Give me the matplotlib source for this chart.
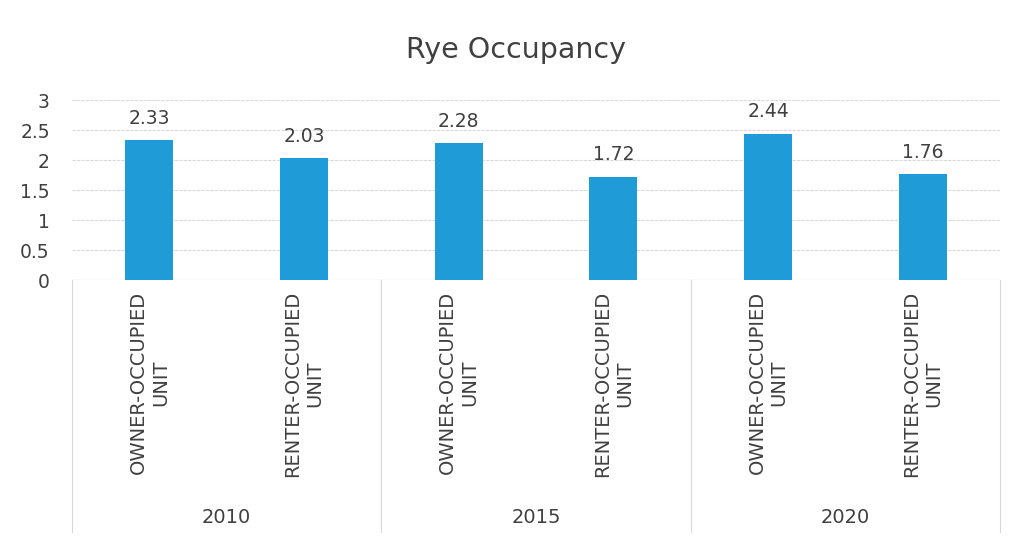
import matplotlib
import matplotlib.pyplot as plt
from matplotlib.lines import Line2D

plt.switch_backend("agg")
plt.rcParams["font.family"] = ["DejaVu Sans"]

YEARS = ["2010", "2015", "2020"]
UNIT_TYPES = ["OWNER-OCCUPIED\nUNIT", "RENTER-OCCUPIED\nUNIT"]
VALUES = [2.33, 2.03, 2.28, 1.72, 2.44, 1.76]
Y_TICKS = [0, 0.5, 1, 1.5, 2, 2.5, 3]

BAR_COLOR = "#1f9bd7"
TEXT_COLOR = "#404040"
GRID_COLOR = "#d9d9d9"

W, H = 1013, 537
fig = plt.figure(figsize=(W / 100, H / 100), dpi=100)
ax = fig.add_axes([72 / W, (H - 280) / H, (1000 - 72) / W, 180 / H])

labels = [u for _ in YEARS for u in UNIT_TYPES]
x = list(range(len(VALUES)))
bars = ax.bar(x, VALUES, width=0.31, color=BAR_COLOR, zorder=3)
for b, v in zip(bars, VALUES):
    ax.annotate(f"{v:.2f}", (b.get_x() + b.get_width() / 2, v),
                xytext=(0, 9), textcoords="offset points",
                ha="center", va="bottom", fontsize=13.5, color=TEXT_COLOR)

ax.set_xlim(-0.5, len(VALUES) - 0.5)
ax.set_ylim(0, 3)
ax.set_yticks(Y_TICKS)
ax.set_yticklabels(["0", "0.5", "1", "1.5", "2", "2.5", "3"])
ax.tick_params(axis="y", length=0, pad=16, labelsize=13.5, labelcolor=TEXT_COLOR)
ax.set_xticks(x)
ax.set_xticklabels(labels, rotation=90, ha="center", va="top",
                   multialignment="center", fontsize=14, color=TEXT_COLOR)
ax.tick_params(axis="x", length=0, pad=8)
ax.grid(axis="y", color=GRID_COLOR, linewidth=0.8, linestyle=(0, (3, 1)), zorder=0)
for s in ax.spines.values():
    s.set_visible(False)
ax.axhline(0, color=GRID_COLOR, linewidth=0.8, zorder=1)

# group separators and year labels below the axis
for i in range(len(YEARS) + 1):
    xs = -0.5 + 2 * i
    ax.add_line(Line2D([xs, xs], [0, -1.4], color=GRID_COLOR, linewidth=0.8,
                       transform=ax.get_xaxis_transform(), clip_on=False))
for i, yr in enumerate(YEARS):
    ax.text(2 * i + 0.5, -1.32, yr, transform=ax.get_xaxis_transform(),
            ha="center", va="center", fontsize=14, color=TEXT_COLOR)

fig.text(516 / W, 1 - 50 / H, "Rye Occupancy", ha="center", va="center",
         fontsize=20.5, color=TEXT_COLOR)

fig.savefig("out.png", dpi=100)
